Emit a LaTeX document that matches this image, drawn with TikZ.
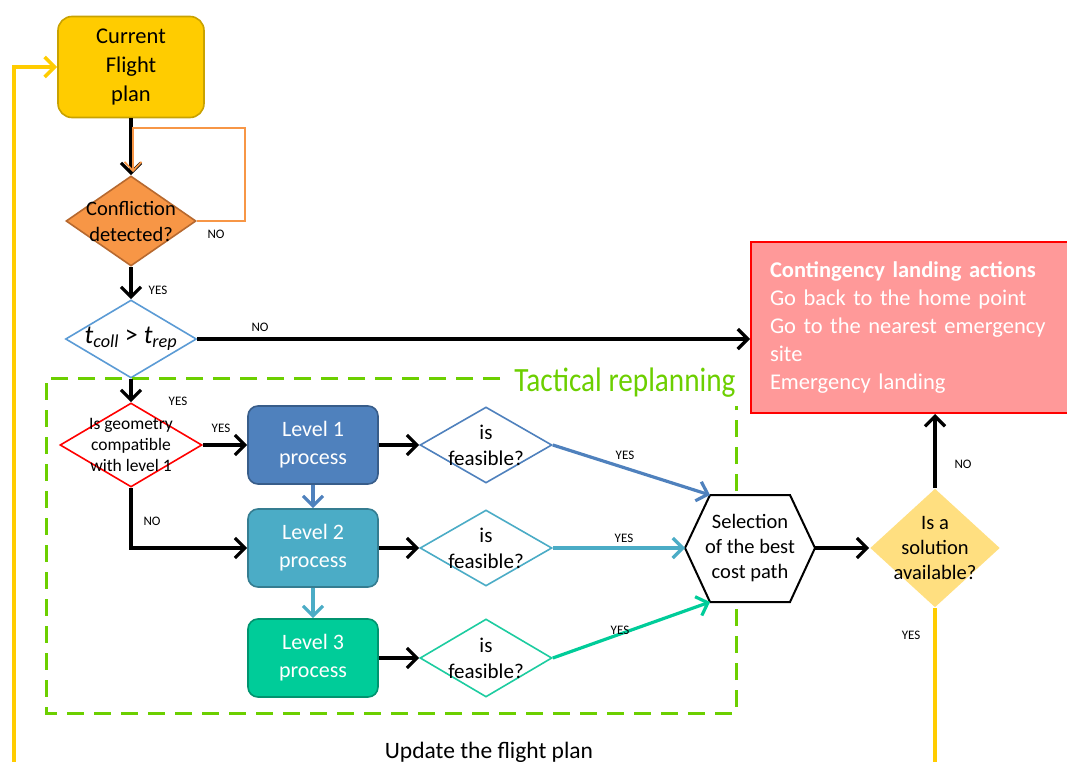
\documentclass[tikz,border=0pt]{standalone}
\usepackage{fontspec}
\setmainfont{Carlito}
\usetikzlibrary{arrows.meta,shapes.geometric,calc}
\definecolor{gold}{HTML}{FFCC00}
\definecolor{goldborder}{HTML}{C9A200}
\definecolor{orangefill}{HTML}{F79646}
\definecolor{orangeborder}{HTML}{B7692F}
\definecolor{lightblue}{HTML}{5B9BD5}
\definecolor{lvlone}{HTML}{4F81BD}
\definecolor{lvloneb}{HTML}{385D8A}
\definecolor{lvltwo}{HTML}{4BACC6}
\definecolor{lvltwob}{HTML}{357D91}
\definecolor{lvlthree}{HTML}{00CC99}
\definecolor{lvlthreeb}{HTML}{00946F}
\definecolor{feasthree}{HTML}{1DCCA0}
\definecolor{pinkfill}{HTML}{FF9999}
\definecolor{tacgreen}{HTML}{6CCF00}
\definecolor{solfill}{HTML}{FFDF80}
\newcommand\fsz[2]{\fontsize{#1}{#2}\selectfont}
\begin{document}
\begin{tikzpicture}[x=1pt,y=-1pt,
  arr/.style={-{Straight Barb[length=10pt,width=20pt]}, line width=3.2pt},
  small/.style={font=\fsz{13}{15}, inner sep=0pt},
  diatext/.style={align=center, font=\fsz{20}{25}, inner sep=0pt},
  dia/.style={diamond, inner sep=0pt, line width=1.6pt},
  lvlbox/.style={rounded corners=10pt, minimum width=130pt, minimum height=78pt,
     line width=1.6pt, text=white, align=center, font=\fsz{22}{28}},
  yel/.style={draw=gold, line width=3.6pt},
  tacdash/.style={draw=tacgreen, line width=3pt, dash pattern=on 17pt off 10pt}
]
\useasboundingbox (0,0) rectangle (1067,762);

% Current flight plan
\node[fill=gold, draw=goldborder, line width=1.6pt, rounded corners=14pt,
  minimum width=146pt, minimum height=101pt, align=center, font=\fsz{22.5}{29}]
  (cfp) at (131,67) {Current\\Flight\\plan};

% Confliction diamond
\node[dia, fill=orangefill, draw=orangeborder, minimum width=130pt, minimum height=90pt,
  label={[diatext, font=\fsz{20.5}{26}]center:Confliction\\detected?}] (confl) at (131,221) {};

% t_coll > t_rep
\node[dia, fill=white, draw=lightblue, minimum width=131pt, minimum height=78pt,
  label={[inner sep=0pt, font=\fsz{26}{30}]center:{\itshape t\textsubscript{coll}} > {\itshape t\textsubscript{rep}}}]
  (tc) at (131,339) {};

% Contingency box
\node[anchor=north west, fill=pinkfill, draw=red, line width=2pt, minimum width=322pt,
  minimum height=171pt, text=white, align=left, text width=284pt, inner xsep=19pt,
  font=\fsz{22.5}{28}] (cont) at (750,241)
  {\textbf{Contingency landing actions}\\Go back to the home point\\Go to the nearest emergency\\site\\Emergency landing};

% Tactical replanning frame
\coordinate (tA) at (500,378);
\coordinate (tB) at (46,378);
\coordinate (tC) at (46,713);
\coordinate (tD) at (736,713);
\coordinate (tE) at (736,406);
\draw[tacdash] (tA) -- (tB) -- (tC) -- (tD) -- (tE);
\node[text=tacgreen, inner sep=0pt] (tac) at (625,383)
  {\scalebox{0.86}[1]{\fsz{34}{36}Tactical replanning}};

% Geometry diamond
\node[dia, fill=white, draw=red, minimum width=142pt, minimum height=84pt,
  label={[align=center, inner sep=0pt, font=\fsz{17.5}{21}]center:Is geometry\\compatible\\with level 1}]
  (geo) at (131,445) {};

% Level boxes
\node[lvlbox, fill=lvlone, draw=lvloneb] (l1) at (313,445) {Level 1\\process};
\node[lvlbox, fill=lvltwo, draw=lvltwob] (l2) at (313,548) {Level 2\\process};
\node[lvlbox, fill=lvlthree, draw=lvlthreeb] (l3) at (313,658) {Level 3\\process};

% Feasible diamonds
\node[dia, fill=white, draw=lvlone, minimum width=132pt, minimum height=76pt,
  label={[diatext, font=\fsz{21}{26}]center:is\\feasible?}] (f1) at (486,445) {};
\node[dia, fill=white, draw=lvltwo, minimum width=132pt, minimum height=76pt,
  label={[diatext, font=\fsz{21}{26}]center:is\\feasible?}] (f2) at (486,548) {};
\node[dia, fill=white, draw=feasthree, minimum width=132pt, minimum height=78pt,
  label={[diatext, font=\fsz{21}{26}]center:is\\feasible?}] (f3) at (486,658) {};

% Hexagon
\coordinate (hL) at (685,548);
\coordinate (hTL) at (710,495);
\coordinate (hTR) at (790,495);
\coordinate (hR) at (815,548);
\coordinate (hBR) at (790,602);
\coordinate (hBL) at (710,602);
\draw[line width=2pt, fill=white] (hL) -- (hTL) -- (hTR) -- (hR) -- (hBR) -- (hBL) -- cycle;
\node[align=center, font=\fsz{20.5}{25}, inner sep=0pt] (sel) at (750,548) {Selection\\of the best\\cost path};

% Solution diamond
\node[dia, fill=solfill, minimum width=130pt, minimum height=119pt,
  label={[diatext, font=\fsz{20.5}{25}]center:Is a\\solution\\available?}] (sol) at (935,548) {};

% Connectors
\draw[arr] (cfp.south) -- (confl.north);
\coordinate (loopTop) at (133,128);
\draw[draw=orangefill, line width=1.8pt, -{Straight Barb[length=9pt,width=17pt]}]
  (confl.east) -- ++(48,0) |- (loopTop) -- ($(loopTop |- confl.north)+(0,-3)$);
\node[small] (noA) at (216,234) {NO};

\draw[arr] (confl.south) -- (tc.north);
\node[small] (yesA) at (158,290) {YES};

\draw[arr] (tc.east) -- (tc.east -| cont.west);
\node[small] (noB) at (260,327) {NO};

\draw[arr] (tc.south) -- (geo.north);
\node[small] (yesB) at (178,401) {YES};

\draw[arr] (geo.east) -- (l1.west);
\node[small] (yesC) at (221,428) {YES};

\draw[arr] (geo.south) |- (l2.west);
\node[small] (noC) at (152,521) {NO};

\draw[arr, draw=lvlone] (l1.south) -- (l2.north);
\draw[arr, draw=lvltwo] (l2.south) -- (l3.north);

\draw[arr] (l1.east) -- (f1.west);
\draw[arr] (l2.east) -- (f2.west);
\draw[arr] (l3.east) -- (f3.west);

\draw[arr, draw=lvlone] (f1.east) -- (hTL);
\node[small] (yesD) at (625,455) {YES};
\draw[arr, draw=lvltwo] (f2.east) -- (hL);
\node[small] (yesE) at (624,538) {YES};
\draw[arr, draw=lvlthree] (f3.east) -- (hBL);
\node[small] (yesF) at (620,630) {YES};

\draw[arr] (hR) -- (sol.west);

\draw[arr] (sol.north) -- (sol.north |- cont.south);
\node[small] (noD) at (963,464) {NO};

\coordinate (botR) at (935,770);
\coordinate (botL) at (14,770);
\draw[yel] (sol.south) -- (botR);
\node[small] (yesG) at (911,635) {YES};
\draw[yel, -{Straight Barb[length=10pt,width=20pt]}] (botL) |- (cfp.west);

\node[font=\fsz{23.5}{26}, inner sep=0pt] (upd) at (489,752) {Update the flight plan};
\end{tikzpicture}
\end{document}
